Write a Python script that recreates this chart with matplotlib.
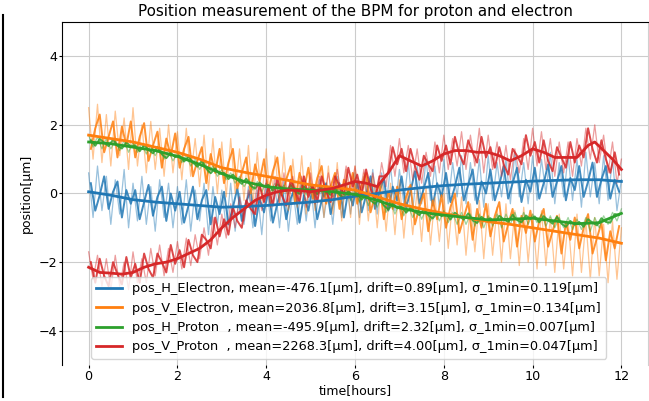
import numpy as np
import matplotlib
matplotlib.use('Agg')
from matplotlib import pyplot as plt
from matplotlib.lines import Line2D

# raw traces, one sample every 0.1 hour
hours_raw = np.arange(121) / 10

h_electron_raw = [
    0.6, -0.7, 0.8, -0.5, 0.5, -0.9, 0.4, -0.6, 0.7, -1.0,
    0.3, -0.8, 0.5, -0.9, 0.2, -1.1, 0.4, -0.7, 0.3, -1.0,
    0.2, -0.9, 0.4, -1.1, 0.1, -0.8, 0.3, -1.2, 0.2, -0.9,
    0.1, -1.0, 0.3, -1.1, 0.0, -0.9, 0.2, -1.0, 0.1, -1.2,
    0.3, -0.8, 0.2, -1.0, 0.4, -1.1, 0.1, -0.9, 0.4, -0.8,
    0.3, -1.0, 0.4, -0.7, 0.2, -0.9, 0.5, -0.7, 0.4, -0.6,
    0.6, -0.7, 0.5, -0.5, 0.7, -0.6, 0.6, -0.4, 0.8, -0.5,
    0.7, -0.3, 0.9, -0.5, 0.8, -0.3, 1.0, -0.2, 0.8, -0.4,
    1.0, -0.3, 0.9, -0.1, 1.1, -0.3, 0.9, -0.2, 1.0, -0.4,
    1.1, -0.2, 0.9, -0.1, 1.0, -0.3, 1.2, -0.1, 0.9, -0.3,
    1.1, -0.2, 1.0, 0.0, 1.2, -0.3, 0.9, -0.1, 1.1, -0.2,
    1.0, -0.4, 1.2, -0.1, 0.9, -0.3, 1.1, -0.2, 1.0, -0.5,
    0.4]
v_electron_raw = [
    2.5, 1.0, 2.6, 0.9, 2.3, 0.8, 2.4, 1.1, 2.2, 0.7,
    2.5, 0.8, 2.0, 0.6, 2.1, 0.7, 1.9, 0.5, 2.0, 0.6,
    1.8, 0.4, 1.9, 0.5, 1.6, 0.2, 1.7, 0.1, 1.6, 0.0,
    1.5, -0.1, 1.6, 0.0, 1.3, -0.2, 1.4, -0.3, 1.2, -0.2,
    1.3, -0.4, 1.1, -0.3, 1.2, -0.5, 1.0, -0.4, 1.1, -0.6,
    0.9, -0.5, 1.0, -0.7, 0.8, -0.6, 0.9, -0.8, 0.7, -0.7,
    0.8, -0.9, 0.6, -0.8, 0.5, -1.0, 0.4, -1.1, 0.3, -1.2,
    0.4, -1.3, 0.2, -1.2, 0.1, -1.4, 0.2, -1.5, -0.1, -1.4,
    0.0, -1.6, -0.2, -1.5, -0.1, -1.8, -0.3, -1.7, -0.2, -1.9,
    -0.3, -1.8, -0.4, -2.0, -0.3, -1.9, -0.5, -2.1, -0.4, -2.0,
    -0.6, -2.2, -0.5, -2.1, -0.7, -2.3, -0.6, -2.2, -0.8, -2.4,
    -0.6, -2.3, -0.8, -2.5, -0.7, -2.4, -0.9, -2.6, -0.8, -2.5,
    -1.0]
h_proton_raw = [
    1.7, 1.35, 1.65, 1.3, 1.6, 1.3, 1.55, 1.25, 1.55, 1.2,
    1.5, 1.2, 1.45, 1.15, 1.4, 1.1, 1.35, 1.0, 1.25, 0.95,
    1.2, 0.9, 1.1, 0.8, 1.0, 0.7, 0.95, 0.6, 0.8, 0.5,
    0.7, 0.4, 0.6, 0.3, 0.5, 0.2, 0.4, 0.1, 0.35, 0.05,
    0.3, 0.05, 0.3, 0.0, 0.25, 0.0, 0.3, -0.05, 0.25, -0.05,
    0.25, -0.1, 0.2, -0.1, 0.2, -0.1, 0.15, -0.15, 0.1, -0.2,
    0.1, -0.25, 0.05, -0.35, -0.05, -0.4, -0.1, -0.55, -0.25, -0.6,
    -0.3, -0.65, -0.35, -0.7, -0.4, -0.75, -0.45, -0.8, -0.5, -0.8,
    -0.5, -0.85, -0.55, -0.9, -0.55, -0.9, -0.6, -0.95, -0.6, -1.0,
    -0.65, -0.95, -0.6, -1.0, -0.6, -0.9, -0.55, -0.9, -0.55, -0.9,
    -0.6, -0.85, -0.6, -0.95, -0.65, -1.0, -0.7, -1.0, -0.7, -1.05,
    -0.75, -1.05, -0.7, -1.1, -0.7, -1.0, -0.65, -0.9, -0.55, -0.8,
    -0.45]
v_proton_raw = [
    -1.7, -2.5, -1.8, -2.7, -1.9, -2.8, -1.8, -2.7, -2.0, -2.8,
    -1.7, -2.6, -1.9, -2.6, -1.6, -2.4, -1.5, -2.4, -1.6, -2.3,
    -1.4, -2.2, -1.3, -2.1, -1.2, -1.9, -1.0, -1.8, -0.7, -1.5,
    -0.6, -1.3, -0.3, -1.0, -0.1, -0.8, 0.1, -0.6, 0.3, -0.5,
    0.4, -0.4, 0.5, -0.3, 0.6, -0.3, 0.5, -0.3, 0.5, -0.4,
    0.6, -0.3, 0.5, -0.2, 0.6, -0.2, 0.7, -0.1, 0.8, 0.0,
    0.8, -0.1, 0.7, -0.2, 0.6, -0.1, 0.9, 0.2, 1.4, 0.5,
    1.6, 0.6, 1.4, 0.4, 1.3, 0.3, 1.2, 0.5, 1.5, 0.6,
    1.7, 0.7, 1.6, 0.8, 1.8, 0.7, 1.7, 0.8, 1.9, 0.6,
    1.7, 0.7, 1.5, 0.5, 1.4, 0.4, 1.3, 0.6, 1.6, 0.7,
    1.9, 0.8, 1.8, 0.7, 1.6, 0.5, 1.5, 0.6, 1.5, 0.5,
    1.6, 0.8, 1.9, 1.0, 2.0, 0.9, 1.7, 0.6, 1.5, 0.3,
    1.0]

# 1-minute averaged traces, sampled half way between the raw samples
hours_core = np.arange(120) / 10 + 0.05

h_electron_core = [
    0.3, -0.5, -0.05, 0.5, -0.45, 0.05, 0.35, -0.7, 0.1, -0.3,
    0.1, -0.75, -0.25, 0.25, -0.65, -0.1, 0.2, -0.8, 0.0, -0.5,
    0.05, -0.85, -0.35, 0.2, -0.75, -0.2, 0.1, -0.9, -0.1, -0.6,
    0.05, -0.9, -0.4, 0.15, -0.8, -0.25, 0.1, -0.95, -0.15, -0.55,
    0.1, -0.85, -0.3, 0.2, -0.75, -0.15, 0.15, -0.85, -0.05, -0.5,
    0.2, -0.75, -0.2, 0.3, -0.6, -0.05, 0.3, -0.7, 0.1, -0.35,
    0.35, -0.55, -0.05, 0.5, -0.45, 0.05, 0.45, -0.5, 0.2, -0.2,
    0.5, -0.4, 0.05, 0.65, -0.3, 0.15, 0.6, -0.35, 0.3, -0.1,
    0.6, -0.25, 0.2, 0.75, -0.2, 0.25, 0.7, -0.3, 0.35, 0.0,
    0.7, -0.2, 0.25, 0.8, -0.15, 0.3, 0.75, -0.25, 0.4, 0.05,
    0.75, -0.15, 0.3, 0.85, -0.1, 0.35, 0.8, -0.2, 0.45, 0.1,
    0.8, -0.1, 0.35, 0.9, -0.1, 0.4, 0.8, -0.15, 0.4, 0.05]
v_electron_core = [
    1.3, 1.9, 2.3, 1.2, 1.65, 2.1, 1.05, 1.95, 1.4, 2.1,
    1.05, 1.65, 2.05, 0.95, 1.4, 1.8, 0.75, 1.6, 1.1, 1.75,
    0.75, 1.3, 1.65, 0.5, 0.95, 1.35, 0.3, 1.15, 0.6, 1.3,
    0.3, 0.9, 1.3, 0.15, 0.6, 1.05, 0.0, 0.85, 0.35, 1.0,
    0.05, 0.65, 1.05, -0.05, 0.4, 0.8, -0.25, 0.6, 0.1, 0.75,
    -0.15, 0.45, 0.8, -0.3, 0.2, 0.6, -0.45, 0.4, -0.05, 0.6,
    -0.3, 0.25, 0.6, -0.55, -0.05, 0.3, -0.75, 0.05, -0.45, 0.2,
    -0.75, -0.1, 0.25, -0.9, -0.4, 0.0, -1.1, -0.2, -0.75, -0.05,
    -1.0, -0.4, 0.0, -1.15, -0.7, -0.25, -1.35, -0.45, -1.0, -0.3,
    -1.25, -0.65, -0.25, -1.4, -0.9, -0.45, -1.55, -0.65, -1.15, -0.5,
    -1.4, -0.8, -0.45, -1.55, -1.1, -0.65, -1.75, -0.85, -1.35, -0.7,
    -1.6, -1.0, -0.6, -1.75, -1.3, -0.85, -1.95, -1.1, -1.6, -0.95]
h_proton_core = [
    1.55, 1.39, 1.59, 1.48, 1.38, 1.57, 1.39, 1.31, 1.49, 1.37,
    1.4, 1.23, 1.41, 1.27, 1.17, 1.35, 1.14, 1.03, 1.18, 1.06,
    1.1, 0.93, 1.07, 0.9, 0.78, 0.95, 0.72, 0.59, 0.73, 0.57,
    0.6, 0.42, 0.55, 0.4, 0.28, 0.43, 0.23, 0.14, 0.32, 0.2,
    0.25, 0.08, 0.27, 0.15, 0.06, 0.25, 0.07, -0.01, 0.2, 0.09,
    0.15, -0.02, 0.17, 0.05, -0.04, 0.14, -0.04, -0.12, 0.06, -0.04,
    0.0, -0.18, -0.04, -0.2, -0.3, -0.14, -0.35, -0.47, -0.3, -0.43,
    -0.38, -0.56, -0.42, -0.54, -0.63, -0.46, -0.63, -0.73, -0.56, -0.66,
    -0.59, -0.76, -0.56, -0.67, -0.76, -0.58, -0.78, -0.86, -0.68, -0.79,
    -0.72, -0.86, -0.65, -0.75, -0.83, -0.62, -0.77, -0.84, -0.64, -0.74,
    -0.67, -0.84, -0.66, -0.78, -0.88, -0.68, -0.88, -0.97, -0.8, -0.91,
    -0.83, -0.97, -0.75, -0.85, -0.93, -0.72, -0.83, -0.85, -0.6, -0.62]
v_proton_core = [
    -2.0, -2.6, -1.9, -2.4, -2.7, -2.0, -2.35, -2.65, -1.85, -2.45,
    -2.05, -2.6, -1.75, -2.2, -2.45, -1.75, -2.0, -2.3, -1.5, -2.05,
    -1.65, -2.15, -1.35, -1.8, -2.0, -1.2, -1.35, -1.6, -0.7, -1.25,
    -0.75, -1.2, -0.4, -0.8, -1.0, -0.2, -0.45, -0.6, 0.25, -0.25,
    0.2, -0.35, 0.45, -0.05, -0.35, 0.4, 0.07, -0.25, 0.5, -0.1,
    0.25, -0.25, 0.5, 0.05, -0.25, 0.5, 0.23, -0.03, 0.75, 0.2,
    0.55, -0.05, 0.7, 0.15, -0.2, 0.5, 0.5, 0.6, 1.35, 0.85,
    1.3, 0.65, 1.3, 0.8, 0.4, 1.1, 0.85, 0.65, 1.4, 0.95,
    1.4, 0.85, 1.65, 1.15, 0.85, 1.55, 1.2, 0.9, 1.65, 1.05,
    1.35, 0.75, 1.35, 0.85, 0.55, 1.3, 1.1, 0.85, 1.7, 1.1,
    1.5, 0.9, 1.55, 0.95, 0.65, 1.35, 1.05, 0.75, 1.5, 0.9,
    1.4, 1.05, 1.9, 1.3, 0.9, 1.55, 1.0, 0.6, 1.2, 0.55]

# smoothed curves
hours_smooth = [0, 0.5, 1, 1.5, 2, 2.5, 3, 3.5, 4, 4.5, 5, 5.5, 6,
                6.5, 7, 7.5, 8, 8.5, 9, 9.5, 10, 10.5, 11, 11.5, 12]
h_electron_smooth = [0.05, -0.05, -0.18, -0.25, -0.3, -0.35, -0.4, -0.38, -0.35,
                     -0.3, -0.25, -0.18, -0.08, 0.0, 0.1, 0.17, 0.23, 0.27, 0.3,
                     0.33, 0.36, 0.38, 0.4, 0.4, 0.35]
v_electron_smooth = [1.7, 1.6, 1.5, 1.35, 1.2, 1.0, 0.75, 0.62, 0.5, 0.38, 0.25,
                     0.18, 0.1, -0.1, -0.3, -0.45, -0.58, -0.7, -0.82, -0.9, -1.0,
                     -1.1, -1.2, -1.3, -1.45]
h_proton_smooth = [1.5, 1.45, 1.35, 1.25, 1.08, 0.85, 0.58, 0.35, 0.2, 0.13, 0.1,
                   0.05, -0.03, -0.2, -0.42, -0.55, -0.63, -0.7, -0.77, -0.75,
                   -0.72, -0.8, -0.88, -0.85, -0.58]

hours_red = [0, 0.25, 0.5, 0.75, 1, 1.25, 1.5, 1.75, 2, 2.25, 2.5, 2.75, 3,
             3.25, 3.5, 3.75, 4, 4.25, 4.5, 4.75, 5, 5.25, 5.5, 5.75, 6, 6.25,
             6.5, 6.75, 7, 7.25, 7.5, 7.75, 8, 8.25, 8.5, 8.75, 9, 9.25, 9.5,
             9.75, 10, 10.25, 10.5, 10.75, 11, 11.25, 11.4, 11.6, 11.8, 12]
v_proton_smooth = [-2.15, -2.3, -2.32, -2.35, -2.3, -2.15, -2.05, -2.0, -1.9,
                   -1.75, -1.6, -1.35, -1.0, -0.7, -0.45, -0.2, -0.05, 0.05, 0.1,
                   0.08, 0.05, 0.1, 0.15, 0.25, 0.35, 0.3, 0.2, 0.6, 1.1, 0.95,
                   0.8, 0.95, 1.15, 1.25, 1.25, 1.2, 1.2, 1.1, 0.95, 1.1, 1.3,
                   1.2, 1.05, 1.05, 1.05, 1.4, 1.5, 1.25, 1.0, 0.7]

labels = [
    'pos_H_Electron, mean=-476.1[μm], drift=0.89[μm], σ_1min=0.119[μm]',
    'pos_V_Electron, mean=2036.8[μm], drift=3.15[μm], σ_1min=0.134[μm]',
    'pos_H_Proton  , mean=-495.9[μm], drift=2.32[μm], σ_1min=0.007[μm]',
    'pos_V_Proton  , mean=2268.3[μm], drift=4.00[μm], σ_1min=0.047[μm]',
]
colors = ['tab:blue', 'tab:orange', 'tab:green', 'tab:red']

fig = plt.figure(figsize=(6.49, 4.01), dpi=100)
ax = fig.add_axes([0.0955, 0.0895, 0.903, 0.856])

raws = [h_electron_raw, v_electron_raw, h_proton_raw, v_proton_raw]
cores = [h_electron_core, v_electron_core, h_proton_core, v_proton_core]
smooth_x = [hours_smooth, hours_smooth, hours_smooth, hours_red]
smooth_y = [h_electron_smooth, v_electron_smooth, h_proton_smooth, v_proton_smooth]

for raw, core, c in zip(raws, cores, colors):
    ax.plot(hours_raw, raw, color=c, lw=0.9, alpha=0.45)
    ax.plot(hours_core, core, color=c, lw=1.4, alpha=0.85)
for sx, sy, c, lab in zip(smooth_x, smooth_y, colors, labels):
    ax.plot(sx, sy, color=c, lw=2, label=lab)

ax.set_xlim(-0.6, 12.6)
ax.set_ylim(-5, 5)
ax.set_xticks([0, 2, 4, 6, 8, 10, 12])
ax.set_yticks([-4, -2, 0, 2, 4])
ax.grid(True, color='#cccccc', lw=0.8)
ax.spines['bottom'].set_visible(False)
ax.spines['right'].set_color('#d0d0d0')
ax.tick_params(labelsize=9.2, length=2.5, pad=1)
ax.set_title('Position measurement of the BPM for proton and electron', fontsize=10.9, pad=4)
ax.set_xlabel('time[hours]', fontsize=9, labelpad=1)
ax.set_ylabel('position[μm]', fontsize=9, labelpad=4)
ax.legend(loc='lower center', bbox_to_anchor=(0.489, 0), fontsize=9.3,
          labelspacing=0.5)

# dark edge on the left of the screenshot
fig.add_artist(Line2D([0.004, 0.004], [0.01, 0.963], color='black', lw=1.5))

fig.savefig('out.png', dpi=100)
